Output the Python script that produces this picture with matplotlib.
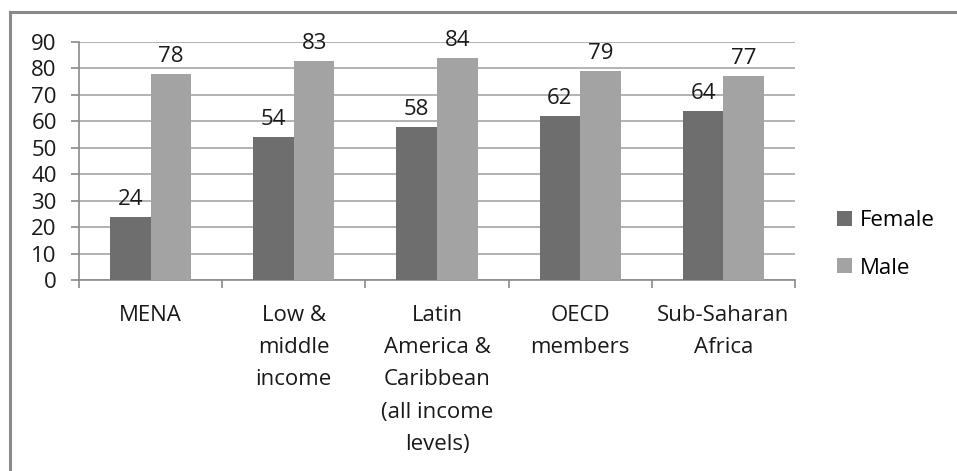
import matplotlib.pyplot as plt
import numpy as np

plt.rcParams['font.family'] = ['Open Sans', 'DejaVu Sans']

kategooriad = ["MENA", "Low &\nmiddle\nincome", "Latin\nAmerica &\nCaribbean\n(all income\nlevels)",
               "OECD\nmembers", "Sub-Saharan\nAfrica"]
naised = [24, 54, 58, 62, 64]
mehed = [78, 83, 84, 79, 77]

W, H = 957, 471
fs = 16
fig = plt.figure(figsize=(W / 100, H / 100), dpi=100)

# raam ümber joonise (ainult ülemine ja vasak serv paistavad)
fig.add_artist(plt.Line2D([9.5 / W, 9.5 / W], [0, 1 - 12 / H], color="#8a8a8a", lw=2.2))
fig.add_artist(plt.Line2D([9.5 / W, 1], [1 - 12 / H, 1 - 12 / H], color="#8a8a8a", lw=2.2))

ax = fig.add_axes([79 / W, (H - 280) / H, (795 - 79) / W, (280 - 42) / H])

x = np.arange(len(kategooriad))
laius = 0.283
b1 = ax.bar(x - laius / 2, naised, laius, color="#6e6e6e", label="Female", zorder=3)
b2 = ax.bar(x + laius / 2, mehed, laius, color="#a3a3a3", label="Male", zorder=3)

for b, v in zip(list(b1) + list(b2), naised + mehed):
    ax.annotate(str(v), (b.get_x() + b.get_width() / 2, v), xytext=(0, 5), textcoords="offset points",
                ha="center", va="bottom", fontsize=fs, color="#1a1a1a")

ax.set_xlim(-0.5, len(kategooriad) - 0.5)
ax.set_ylim(0, 90)
ax.set_yticks(range(0, 91, 10))
ax.yaxis.grid(True, color="#a6a6a6", lw=1.2, zorder=0)

ax.set_xticks(np.arange(-0.5, len(kategooriad), 1))
ax.set_xticklabels([])
ax.set_xticks(x, minor=True)
ax.set_xticklabels(kategooriad, minor=True, fontsize=fs, color="#1a1a1a", linespacing=1.7, va="top")
ax.tick_params(axis="x", which="minor", length=0, pad=18)
ax.tick_params(axis="x", which="major", length=6, width=1.2, color="#8a8a8a")
ax.tick_params(axis="y", length=6, width=1.2, color="#8a8a8a", labelsize=fs, labelcolor="#1a1a1a", pad=10)

for s in ["top", "right"]:
    ax.spines[s].set_visible(False)
ax.spines["left"].set_color("#8a8a8a")
ax.spines["bottom"].set_color("#8a8a8a")
ax.spines["left"].set_linewidth(1.2)
ax.spines["bottom"].set_linewidth(1.2)

ax.legend(loc="center left", bbox_to_anchor=(1.059, 0.15), frameon=False, fontsize=fs,
          handlelength=0.65, handleheight=0.65, handletextpad=0.35, labelspacing=1.2,
          borderpad=0, borderaxespad=0)

plt.savefig("out.png", dpi=100)
